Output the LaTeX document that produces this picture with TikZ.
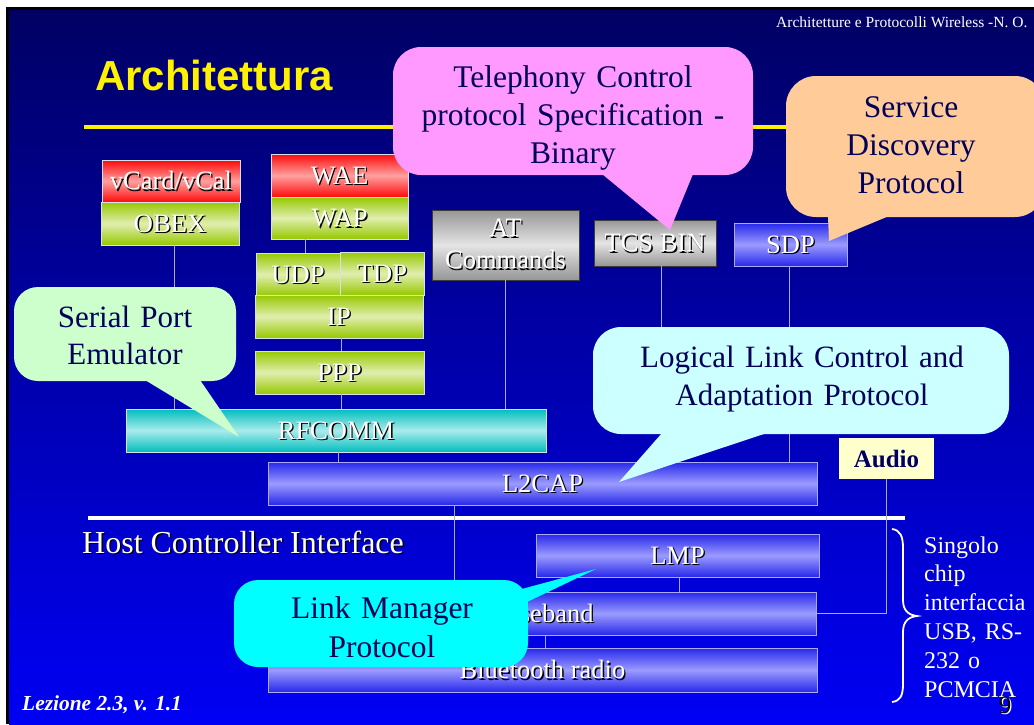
\documentclass[tikz,border=0pt]{standalone}
\usepackage{fontspec}
\setmainfont{Liberation Serif}
\newfontfamily\arialf{Liberation Sans}
\usetikzlibrary{calc}
\definecolor{bgtop}{RGB}{0,0,100}
\definecolor{bgbot}{RGB}{0,0,245}
\definecolor{boxred}{RGB}{255,10,10}
\definecolor{boxredl}{RGB}{255,160,160}
\definecolor{boxgrn}{RGB}{150,200,0}
\definecolor{boxgrnl}{RGB}{225,238,175}
\definecolor{boxgry}{RGB}{150,150,150}
\definecolor{boxgryl}{RGB}{228,228,228}
\definecolor{boxblu}{RGB}{40,40,235}
\definecolor{boxblul}{RGB}{155,155,255}
\definecolor{boxcyn}{RGB}{0,190,190}
\definecolor{boxcynl}{RGB}{170,235,235}
\definecolor{boxedge}{RGB}{215,225,235}
\definecolor{bluedge}{RGB}{170,170,255}
\definecolor{linec}{RGB}{170,170,230}
\definecolor{audioc}{RGB}{255,255,204}
\definecolor{pinkc}{RGB}{255,153,255}
\definecolor{peachc}{RGB}{255,204,153}
\definecolor{sgreenc}{RGB}{204,255,204}
\definecolor{lcyanc}{RGB}{204,255,255}
\definecolor{cyanc}{RGB}{0,255,255}
\definecolor{calltext}{RGB}{0,0,90}
\newcommand{\txs}[1]{\makebox[0pt][l]{\kern1.4pt\raisebox{-1.4pt}{\color{black}#1}}#1}
\newcommand{\txsw}[1]{\makebox[0pt][l]{\kern1.3pt\raisebox{-1.3pt}{\color{white}#1}}#1}
\begin{document}
\begin{tikzpicture}[x=1pt,y=-1pt,
  box/.style={draw=boxedge, line width=0.8pt, inner sep=0pt, text=white,
    font=\fontsize{26.5}{31}\selectfont, text height=17.5pt, text depth=0pt},
  redbox/.style={box, top color=boxred, bottom color=boxred, middle color=boxredl},
  grnbox/.style={box, top color=boxgrn, bottom color=boxgrn, middle color=boxgrnl},
  grybox/.style={box, draw={rgb,255:red,60;green,60;blue,60}, top color=boxgry, bottom color=boxgry, middle color=boxgryl},
  blubox/.style={box, draw=bluedge, top color=boxblu, bottom color=boxblu, middle color=boxblul},
  cynbox/.style={box, top color=boxcyn, bottom color=boxcyn, middle color=boxcynl},
  conn/.style={draw=linec, line width=0.8pt},
  calltxt/.style={anchor=base, align=center, inner sep=0pt, text=calltext},
  plain/.style={inner sep=0pt, text=white}
]
\useasboundingbox (0,0) rectangle (1034,724);
% background
\fill[white] (0,0) rectangle (1034,724);
\fill[black] (6,7) rectangle (1034,724);
\shade[top color=bgtop, bottom color=bgbot] (9,10) rectangle (1034,724);
% rules
\draw[yellow, line width=4pt] (84,127) -- (1000,127);
\draw[white, line width=3.5pt] (88,518) -- (905,518);
% title and header
\node[plain, anchor=base west, text=yellow, font=\arialf\bfseries\fontsize{42}{50}\selectfont] (title) at (95,90) {Architettura};
\node[plain, anchor=base west, font=\fontsize{15.5}{18}\selectfont] (hdr) at (776,27) {Architetture e Protocolli Wireless -N. O.};
% boxes
\node[redbox, minimum width=138, minimum height=42] (vcard) at (171,181) {\txs{vCard/vCal}};
\node[grnbox, minimum width=138, minimum height=43] (obex) at (170,223.5) {\txs{OBEX}};
\node[redbox, minimum width=137, minimum height=43] (wae) at (339.5,175.5) {\txs{WAE}};
\node[grnbox, minimum width=137, minimum height=42] (wap) at (339.5,218) {\txs{WAP}};
\node[grnbox, minimum width=84, minimum height=43] (udp) at (298,274.5) {\txs{UDP}};
\node[grnbox, minimum width=84, minimum height=43] (tdp) at (382,273.5) {\txs{TDP}};
\node[grnbox, minimum width=168, minimum height=43] (ip) at (339,316.5) {\txs{IP}};
\node[grnbox, minimum width=169, minimum height=43] (ppp) at (339.5,372.5) {\txs{PPP}};
\node[grybox, minimum width=147, minimum height=70, text height=, text depth=, align=center, font=\fontsize{26.5}{32}\selectfont] (at) at (505.5,245) {\txs{AT}\\\txs{Commands}};
\node[grybox, minimum width=122, minimum height=46] (tcs) at (655,243) {\txs{TCS BIN}};
\node[blubox, minimum width=113, minimum height=43] (sdp) at (790.5,244.5) {\txs{SDP}};
\node[cynbox, minimum width=420, minimum height=43] (rfcomm) at (336,430.5) {\txs{RFCOMM}};
\node[blubox, minimum width=549, minimum height=43] (l2cap) at (542.5,483.5) {\txs{L2CAP}};
\node[box, draw=none, fill=audioc, text=calltext, minimum width=95, minimum height=41, font=\bfseries\fontsize{25}{30}\selectfont] (audio) at (886.5,458.5) {\txsw{Audio}};
\node[blubox, minimum width=283, minimum height=43] (lmp) at (677.5,555.5) {\txs{LMP}};
\node[blubox, minimum width=548, minimum height=43] (baseband) at (542,613.5) {\txs{Baseband}};
\node[blubox, minimum width=549, minimum height=44] (radio) at (542.5,670) {\txs{Bluetooth radio}};
% connectors
\coordinate (c1) at ($(obex.south)+(4,0)$);
\draw[conn] (c1) -- (c1 |- rfcomm.north);
\coordinate (c2) at ($(wap.south)+(-34.5,0)$);
\draw[conn] (c2) -- (c2 |- udp.north);
\coordinate (c3) at ($(ip.south)+(2,0)$);
\draw[conn] (c3) -- (c3 |- ppp.north);
\coordinate (c4) at ($(ppp.south)+(1.5,0)$);
\draw[conn] (c4) -- (c4 |- rfcomm.north);
\draw[conn] (at.south) -- (at.south |- rfcomm.north);
\coordinate (c6) at ($(tcs.south)+(6,0)$);
\draw[conn] (c6) -- (c6 |- l2cap.north);
\coordinate (c7) at ($(sdp.south)+(-1.5,0)$);
\draw[conn] (c7) -- (c7 |- l2cap.north);
\coordinate (c8) at ($(rfcomm.south)+(2.6,0)$);
\draw[conn] (c8) -- (c8 |- l2cap.north);
\coordinate (c9) at ($(l2cap.south)+(-88.5,0)$);
\draw[conn] (c9) -- (c9 |- baseband.north);
\coordinate (c10) at ($(lmp.south)+(1.5,0)$);
\draw[conn] (c10) -- (c10 |- baseband.north);
\coordinate (c11) at ($(baseband.south)+(3,0)$);
\draw[conn] (c11) -- (c11 |- radio.north);
\draw[conn] (audio.south) |- (baseband.east);
% Host controller interface
\node[plain, anchor=base west, font=\fontsize{32}{38}\selectfont] (hci) at (82,553) {\txs{Host Controller Interface}};
% brace and chip text
\draw[white, line width=1.8pt] (892,529) .. controls (900,530) and (903,536) .. (903,548) -- (903,600) .. controls (903,610) and (908,615) .. (917,616) .. controls (908,617) and (903,622) .. (903,632) -- (903,684) .. controls (903,696) and (900,701) .. (892,702);
\node[plain, anchor=base west, text width=110, align=left, font=\fontsize{24}{28.8}\selectfont] (chip) at (924,553) {Singolo\\ chip\\ interfaccia\\ USB, RS-\\ 232 o\\ PCMCIA};
% callouts
\fill[pinkc, rounded corners=28] (393,47) rectangle (753,175);
\fill[pinkc] (602,174) -- (670,230) -- (693,174) -- cycle;
\node[calltxt, text width=360, font=\fontsize{31.5}{38}\selectfont] (tcsc) at (573,87) {Telephony Control\\ protocol Specification -\\ Binary};
\fill[peachc, rounded corners=30] (786,76) rectangle (1045,217);
\fill[peachc] (828,216) -- (829,241) -- (889,216) -- cycle;
\node[calltxt, text width=250, font=\fontsize{31.5}{38}\selectfont] (sdpc) at (911,117) {Service\\ Discovery\\ Protocol};
\fill[sgreenc, rounded corners=24] (14,287) rectangle (236,381);
\fill[sgreenc] (145,380) -- (239,437) -- (200,380) -- cycle;
\node[calltxt, text width=220, font=\fontsize{31}{37}\selectfont] (serc) at (125,327) {Serial Port\\ Emulator};
\fill[lcyanc, rounded corners=28] (593,327) rectangle (1009,434);
\fill[lcyanc] (662,433) -- (619,482) -- (767,433) -- cycle;
\node[calltxt, text width=416, font=\fontsize{31}{38}\selectfont] (llcc) at (802,367) {Logical Link Control and\\ Adaptation Protocol};
\fill[cyanc, rounded corners=24] (234,580) rectangle (528,667);
\fill[cyanc] (518,590) -- (596,569) -- (525,603) -- cycle;
\node[calltxt, text width=294, font=\fontsize{31.5}{39}\selectfont] (lmc) at (382,618) {Link Manager\\ Protocol};
% footer
\node[plain, anchor=base west, font=\bfseries\itshape\fontsize{21.4}{25}\selectfont] (lez) at (22,710) {Lezione 2.3, v. 1.1};
\node[plain, anchor=base, text=black, font=\fontsize{25}{30}\selectfont] (pg) at (1005,713) {\txsw{9}};
\end{tikzpicture}
\end{document}
